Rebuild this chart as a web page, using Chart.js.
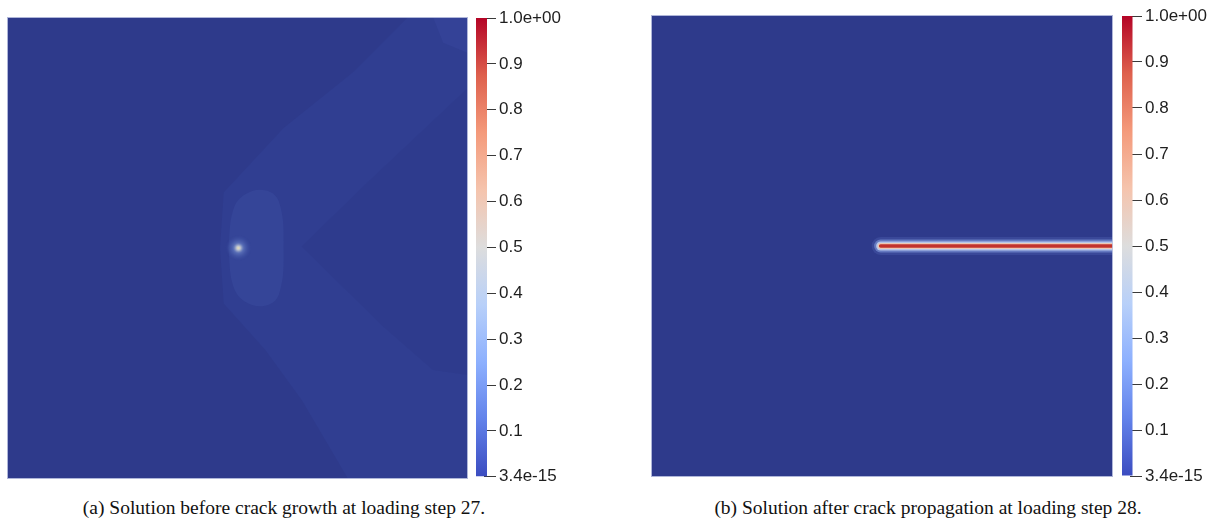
<!DOCTYPE html>
<html><head><meta charset="utf-8">
<script src="https://cdn.jsdelivr.net/npm/chart.js@4.4.1/dist/chart.umd.min.js"></script>
<style>
html,body{margin:0;padding:0;background:#fff;}
body{width:1218px;height:524px;position:relative;overflow:hidden;}
canvas{position:absolute;}
.cap{position:absolute;top:497px;font-family:"Liberation Serif","Times New Roman",serif;font-size:19.5px;color:#111;white-space:nowrap;transform:translateX(-50%);}
</style></head><body>
<canvas id="fieldA" width="461" height="462" style="left:7px;top:17px"></canvas>
<canvas id="barA" width="130" height="490" style="left:476px;top:0px"></canvas>
<canvas id="fieldB" width="462" height="462" style="left:651px;top:15px"></canvas>
<canvas id="barB" width="90" height="490" style="left:1122px;top:0px"></canvas>
<div class="cap" style="left:284px">(a) Solution before crack growth at loading step 27.</div>
<div class="cap" style="left:928px">(b) Solution after crack propagation at loading step 28.</div>
<script>
// ---- colour-bar data ----
const colorbarTicks = [0, 0.1, 0.2, 0.3, 0.4, 0.5, 0.6, 0.7, 0.8, 0.9, 1.0];
const colorbarLabels = ['3.4e-15', '0.1', '0.2', '0.3', '0.4', '0.5', '0.6', '0.7', '0.8', '0.9', '1.0e+00'];
const colorbarRange = [0, 1];
const coolWarmStops = [0, 0.125, 0.25, 0.375, 0.5, 0.625, 0.75, 0.875, 1];
const coolWarmColors = ['rgb(59,76,192)', 'rgb(98,130,234)', 'rgb(141,176,254)', 'rgb(184,208,249)', 'rgb(221,221,221)', 'rgb(245,196,173)', 'rgb(244,154,123)', 'rgb(222,96,77)', 'rgb(180,4,38)'];

// ---- panel (a): damage field before crack growth ----
const bandOuterX = [0.462, 0.470, 0.600, 0.750, 0.870, 1.0, 1.0, 0.740, 0.640, 0.560, 0.470];
const bandOuterY = [0.500, 0.620, 0.760, 0.880, 1.0, 1.0, 0.0, 0.0, 0.170, 0.280, 0.380];
const wedgeX = [0.639, 0.780, 0.996, 1.0, 1.0, 0.924, 0.816];
const wedgeY = [0.503, 0.640, 0.843, 0.843, 0.225, 0.236, 0.330];
const cornerX = [0.924, 1.0, 1.0, 0.946];
const cornerY = [1.0, 1.0, 0.922, 0.944];
const glowX = [0.48, 0.49, 0.515, 0.56, 0.59, 0.60, 0.59, 0.56, 0.515, 0.49];
const glowY = [0.50, 0.58, 0.615, 0.625, 0.60, 0.50, 0.40, 0.375, 0.385, 0.42];
const spotX = [0.502];
const spotY = [0.500];

// ---- panel (b): crack after propagation ----
const crackX = [0.497, 1.0];
const crackY = [0.5, 0.5];

const pts = (xs, ys) => xs.map((x, i) => ({x, y: ys[i]}));
const closed = (xs, ys) => { const p = pts(xs, ys); p.push(p[0]); return p; };

// glow sprite used as the point style of the hot spot
const spotSprite = (() => {
  const R = 13, c = document.createElement('canvas');
  c.width = c.height = 2 * R;
  const g2 = c.getContext('2d');
  const g = g2.createRadialGradient(R, R, 0, R, R, R);
  g.addColorStop(0, 'rgba(238,226,180,1)');
  g.addColorStop(0.15, 'rgba(205,210,212,0.9)');
  g.addColorStop(0.4, 'rgba(115,140,205,0.55)');
  g.addColorStop(1, 'rgba(60,80,165,0)');
  g2.fillStyle = g;
  g2.fillRect(0, 0, 2 * R, 2 * R);
  return c;
})();

const bgPlugin = {
  id: 'facebg',
  beforeDatasetsDraw(chart, args, opts) {
    const {ctx, chartArea: a} = chart;
    ctx.save();
    ctx.fillStyle = opts.color;
    ctx.fillRect(a.left, a.top, a.width, a.height);
    ctx.restore();
  },
  afterDatasetsDraw(chart) {
    const {ctx, chartArea: a} = chart;
    ctx.save();
    ctx.strokeStyle = 'rgba(190,196,225,0.9)';
    ctx.lineWidth = 1;
    ctx.strokeRect(a.left + 0.5, a.top + 0.5, a.width - 1, a.height - 1);
    ctx.restore();
  }
};

function fieldOptions(bg) {
  return {
    responsive: false, animation: false, events: [],
    layout: {padding: 0, autoPadding: false},
    plugins: {legend: {display: false}, tooltip: {enabled: false}, facebg: {color: bg}},
    scales: {
      x: {type: 'linear', min: 0, max: 1, display: false},
      y: {type: 'linear', min: 0, max: 1, display: false}
    },
    elements: {point: {radius: 0}}
  };
}

function poly(data, color, tension, order) {
  return {type: 'line', data, showLine: true, fill: 'shape', backgroundColor: color, order,
          borderColor: color, borderWidth: 0, pointRadius: 0, tension};
}

new Chart(document.getElementById('fieldA'), {
  type: 'scatter',
  data: {datasets: [
    poly(closed(bandOuterX, bandOuterY), 'rgb(48,62,145)', 0, 5),
    poly(closed(wedgeX, wedgeY), 'rgb(46,59,141)', 0, 4),
    poly(closed(cornerX, cornerY), 'rgb(52,66,151)', 0, 3),
    poly(closed(glowX, glowY), 'rgba(58,75,160,0.5)', 0.4, 2),
    {type: 'scatter', order: 1, data: pts(spotX, spotY), pointRadius: 13, pointStyle: spotSprite, pointBorderWidth: 0}
  ]},
  options: fieldOptions('rgb(46,58,139)'),
  plugins: [bgPlugin]
});

new Chart(document.getElementById('fieldB'), {
  type: 'line',
  data: {datasets: [
    {order: 5, data: pts(crackX, crackY), borderColor: 'rgba(80,100,180,0.35)', borderWidth: 18, borderCapStyle: 'round', pointRadius: 0},
    {order: 4, data: pts(crackX, crackY), borderColor: 'rgba(130,155,220,0.6)', borderWidth: 13, borderCapStyle: 'round', pointRadius: 0},
    {order: 3, data: pts(crackX, crackY), borderColor: 'rgba(190,205,238,0.9)', borderWidth: 9, borderCapStyle: 'round', pointRadius: 0},
    {order: 2, data: pts(crackX, crackY), borderColor: 'rgb(236,200,180)', borderWidth: 6, borderCapStyle: 'round', pointRadius: 0},
    {order: 1, data: pts(crackX, crackY), borderColor: 'rgb(194,50,44)', borderWidth: 3.5, borderCapStyle: 'round', pointRadius: 0}
  ]},
  options: fieldOptions('rgb(46,58,139)'),
  plugins: [bgPlugin]
});

function colorbar(id, top, bottom, barWidthPx) {
  const canvas = document.getElementById(id);
  const H = canvas.height, W = canvas.width;
  const areaW = 8;
  new Chart(canvas, {
    type: 'bar',
    data: {labels: [''], datasets: [{
      data: [colorbarRange],
      barPercentage: barWidthPx / areaW, categoryPercentage: 1,
      clip: false, borderWidth: 0,
      backgroundColor(ctx) {
        const a = ctx.chart.chartArea;
        if (!a) return coolWarmColors[0];
        const g = ctx.chart.ctx.createLinearGradient(0, a.bottom, 0, a.top);
        coolWarmStops.forEach((s, i) => g.addColorStop(s, coolWarmColors[i]));
        return g;
      }
    }]},
    options: {
      responsive: false, animation: false, events: [],
      layout: {padding: {top: top, bottom: H - bottom, left: 0, right: 0}},
      plugins: {legend: {display: false}, tooltip: {enabled: false}},
      scales: {
        x: {display: false},
        y: {
          position: 'right', min: 0, max: 1,
          afterBuildTicks(scale) { scale.ticks = colorbarTicks.map(v => ({value: v})); },
          afterFit(scale) { scale.width = W - areaW; },
          border: {display: false},
          grid: {drawOnChartArea: false, drawTicks: true, tickLength: 12, color: '#3a3a3a', lineWidth: 1},
          ticks: {
            padding: 3, color: '#1e1e1e',
            font: {family: '"Liberation Sans", Arial, sans-serif', size: 17},
            callback(v) { return colorbarLabels[colorbarTicks.indexOf(Math.round(v * 10) / 10)]; }
          }
        }
      }
    }
  });
}
colorbar('barA', 18, 477, 14);
colorbar('barB', 16, 476, 13);
</script>
</body></html>
